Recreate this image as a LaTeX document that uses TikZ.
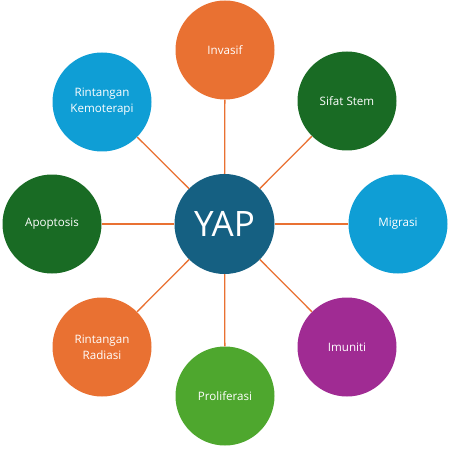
\documentclass[tikz,border=0pt]{standalone}
\usepackage{fontspec}
\setmainfont{Open Sans}
\definecolor{cdark}{HTML}{156082}
\definecolor{corange}{HTML}{E97132}
\definecolor{cgreen}{HTML}{196B24}
\definecolor{cblue}{HTML}{0F9ED5}
\definecolor{cpurple}{HTML}{A02B93}
\definecolor{clime}{HTML}{4EA72E}
\begin{document}
\begin{tikzpicture}[x=1pt,y=-1pt,
  hub/.style={circle,fill=cdark,minimum size=100pt,inner sep=0pt,text=white,font=\fontsize{35}{40}\selectfont},
  leaf/.style={circle,minimum size=99pt,inner sep=0pt,text=white,align=center,font=\fontsize{11.6}{16}\selectfont},
  link/.style={draw=corange,line width=1.3pt}]
\useasboundingbox (0,0) rectangle (449,449);
\node[hub] (yap) at (224.5,224) {YAP};
\node[leaf,fill=corange] (inv) at (225,50) {Invasif};
\node[leaf,fill=cgreen] (sif) at (347,101) {Sifat Stem};
\node[leaf,fill=cblue] (mig) at (398,224) {Migrasi};
\node[leaf,fill=cpurple] (imu) at (347,347) {Imuniti};
\node[leaf,fill=clime] (pro) at (225,396) {Proliferasi};
\node[leaf,fill=corange] (rad) at (102,347) {Rintangan\\Radiasi};
\node[leaf,fill=cgreen] (apo) at (52,224) {Apoptosis};
\node[leaf,fill=cblue] (kem) at (102,102) {Rintangan\\Kemoterapi};
\foreach \n in {inv,sif,mig,imu,pro,rad,apo,kem}
  \path[link] (yap) -- (\n);
\end{tikzpicture}
\end{document}
